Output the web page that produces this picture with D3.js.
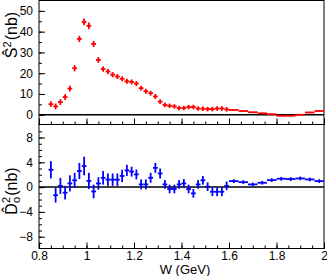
<!DOCTYPE html>
<html>
<head>
<meta charset="utf-8">
<script src="https://cdn.jsdelivr.net/npm/d3@7"></script>
<style>
  body { margin: 0; background: #fff; }
  text { font-family: "Liberation Sans", Arial, sans-serif; }
</style>
</head>
<body>
<div id="chart"></div>
<script>
// bin centres (GeV) and half widths
var W = [0.85, 0.87, 0.89, 0.91, 0.93, 0.95, 0.97, 0.99, 1.01, 1.03,
         1.05, 1.07, 1.09, 1.11, 1.13, 1.15, 1.17, 1.19, 1.21, 1.23,
         1.25, 1.27, 1.29, 1.31, 1.33, 1.35, 1.37, 1.39, 1.41, 1.43,
         1.45, 1.47, 1.49, 1.51, 1.53, 1.55, 1.57, 1.59,
         1.62, 1.66, 1.70, 1.74, 1.78, 1.82, 1.86, 1.90, 1.94, 1.98];
var halfW = [0.01, 0.01, 0.01, 0.01, 0.01, 0.01, 0.01, 0.01, 0.01, 0.01,
             0.01, 0.01, 0.01, 0.01, 0.01, 0.01, 0.01, 0.01, 0.01, 0.01,
             0.01, 0.01, 0.01, 0.01, 0.01, 0.01, 0.01, 0.01, 0.01, 0.01,
             0.01, 0.01, 0.01, 0.01, 0.01, 0.01, 0.01, 0.01,
             0.02, 0.02, 0.02, 0.02, 0.02, 0.02, 0.02, 0.02, 0.02, 0.02];

// S^2 (nb), top panel
var sHat = [5.1, 4.0, 6.1, 8.5, 12.6, 22.4, 36.5, 44.7, 42.8, 34.1,
            26.4, 22.0, 20.8, 19.3, 18.4, 17.3, 16.1, 15.8, 15.0, 12.8,
            11.3, 10.4, 8.8, 6.3, 4.7, 4.3, 4.0, 3.2, 3.2, 3.7,
            3.7, 3.0, 2.9, 2.7, 2.7, 3.0, 3.0, 2.6,
            2.3, 1.8, 1.2, 0.7, 0.25, -0.5, -0.5, 0.0, 1.1, 1.8];
var sErr = [1.4, 1.4, 1.4, 1.4, 1.4, 1.5, 1.5, 1.6, 1.6, 1.5,
            1.4, 1.3, 1.3, 1.3, 1.2, 1.2, 1.2, 1.2, 1.2, 1.2,
            1.2, 1.2, 1.2, 1.1, 1.1, 1.1, 1.1, 1.1, 1.1, 1.1,
            1.1, 1.1, 1.1, 1.1, 1.1, 1.1, 1.1, 1.1,
            0.3, 0.3, 0.3, 0.3, 0.3, 0.3, 0.3, 0.3, 0.3, 0.3];

// D0^2 (nb), bottom panel
var dHat = [2.8, -1.3, 0.2, -0.9, 0.6, 1.1, 2.6, 3.4, 1.0, -0.7,
            0.6, 1.5, 1.2, 1.2, 1.2, 1.8, 2.7, 2.5, 2.05, 0.44,
            0.44, 1.5, 3.1, 2.2, 0.44, -0.3, -0.3, 0.44, 0.6, -0.3,
            -1.0, 0.44, 1.1, 0.07, -0.75, -0.75, -0.75, 0.2,
            0.97, 0.8, 0.44, 0.7, 1.13, 1.35, 1.3, 1.4, 1.24, 0.97];
var dErr = [1.4, 1.2, 1.3, 1.1, 1.3, 1.2, 1.3, 1.5, 1.3, 1.1,
            1.0, 1.1, 1.0, 1.0, 1.0, 1.0, 0.9, 0.8, 0.8, 0.8,
            0.8, 0.8, 0.8, 0.8, 0.7, 0.7, 0.7, 0.7, 0.7, 0.7,
            0.7, 0.7, 0.7, 0.7, 0.7, 0.7, 0.7, 0.7,
            0.3, 0.3, 0.3, 0.3, 0.3, 0.3, 0.3, 0.3, 0.3, 0.3];

var xMajor = [0.8, 1.0, 1.2, 1.4, 1.6, 1.8, 2.0];
var topMajor = [0, 10, 20, 30, 40, 50];
var botMajor = [-8, -4, 0, 4, 8];

var width = 327, height = 276;
var left = 39, right = 324;

var svg = d3.select("#chart").append("svg")
    .attr("width", width)
    .attr("height", height);

var x = d3.scaleLinear().domain([0.8, 2.0]).range([left, right]);
var yTop = d3.scaleLinear().domain([-4.7, 55]).range([124.5, 0.5]);
var yBot = d3.scaleLinear().domain([-9.9, 10.1]).range([248.5, 124.5]);

var xMinor = d3.range(0.8, 2.0001, 0.05);
var topMinor = d3.range(0, 55, 5);
var botMinor = d3.range(-9, 10, 1);

function drawPanel(y, yMajor, yMinor, showX, vals, errs, color) {
  var r = y.range();
  // minor ticks
  svg.append("g")
      .attr("transform", "translate(0," + r[0] + ")")
      .call(d3.axisBottom(x).tickValues(xMinor).tickSize(-3).tickFormat(""))
      .call(function(g) { g.select(".domain").remove(); });
  svg.append("g")
      .attr("transform", "translate(" + left + ",0)")
      .call(d3.axisLeft(y).tickValues(yMinor).tickSize(-3).tickFormat(""))
      .call(function(g) { g.select(".domain").remove(); });

  // major ticks + labels
  var xa = svg.append("g")
      .attr("class", "x axis")
      .attr("transform", "translate(0," + r[0] + ")")
      .call(d3.axisBottom(x).tickValues(xMajor).tickSize(-6).tickPadding(3)
            .tickFormat(showX ? d3.format("") : ""));
  xa.select(".domain").remove();
  xa.selectAll("text").style("font-size", "12px").attr("fill", "#000");

  var ya = svg.append("g")
      .attr("class", "y axis")
      .attr("transform", "translate(" + left + ",0)")
      .call(d3.axisLeft(y).tickValues(yMajor).tickSize(-6).tickPadding(6));
  ya.select(".domain").remove();
  ya.selectAll("text").style("font-size", "12px").attr("fill", "#000");

  // zero line
  svg.append("line")
      .attr("x1", left).attr("x2", right)
      .attr("y1", y(0)).attr("y2", y(0))
      .attr("stroke", "#000")
      .attr("stroke-width", 1.5);

  // frame
  svg.append("rect")
      .attr("x", left).attr("y", r[1])
      .attr("width", right - left).attr("height", r[0] - r[1])
      .attr("fill", "none")
      .attr("stroke", "#000");

  var pts = svg.append("g").selectAll(".pt")
      .data(W)
    .enter().append("g")
      .attr("class", "pt");

  pts.append("line")
      .attr("x1", function(d, i) { return x(d - halfW[i]); })
      .attr("x2", function(d, i) { return x(d + halfW[i]); })
      .attr("y1", function(d, i) { return y(vals[i]); })
      .attr("y2", function(d, i) { return y(vals[i]); })
      .attr("stroke", color)
      .attr("stroke-width", 1.8);

  pts.append("line")
      .attr("x1", function(d) { return x(d); })
      .attr("x2", function(d) { return x(d); })
      .attr("y1", function(d, i) { return y(vals[i] - errs[i]); })
      .attr("y2", function(d, i) { return y(vals[i] + errs[i]); })
      .attr("stroke", color)
      .attr("stroke-width", 1.8);
}

drawPanel(yTop, topMajor, topMinor, false, sHat, sErr, "#ff0000");
drawPanel(yBot, botMajor, botMinor, true, dHat, dErr, "#0000ff");

// axis titles
svg.append("text")
    .attr("x", 185)
    .attr("y", 274)
    .style("text-anchor", "middle")
    .style("font-size", "13px")
    .text("W (GeV)");

var t1 = svg.append("text")
    .attr("transform", "translate(17,35) rotate(-90)")
    .style("text-anchor", "middle")
    .style("font-size", "16px");
t1.append("tspan").text("\u015C");
t1.append("tspan").attr("dy", -6).style("font-size", "11px").text("2");
t1.append("tspan").attr("dy", 6).attr("dx", 1).text("(nb)");

var t2 = svg.append("text")
    .attr("transform", "translate(17,191) rotate(-90)")
    .style("text-anchor", "middle")
    .style("font-size", "16px");
t2.append("tspan").text("D\u0302");
t2.append("tspan").attr("dy", 3).style("font-size", "11px").text("o");
t2.append("tspan").attr("dx", -6).attr("dy", -10).style("font-size", "11px").text("2");
t2.append("tspan").attr("dy", 7).attr("dx", 1).text("(nb)");
</script>
</body>
</html>
